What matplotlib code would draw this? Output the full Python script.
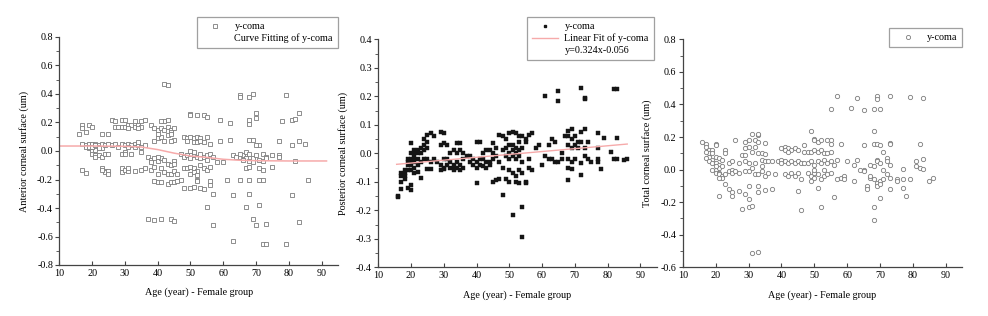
import matplotlib
matplotlib.use("Agg")
import matplotlib.pyplot as plt
from matplotlib.lines import Line2D
from matplotlib.ticker import MultipleLocator

plt.rcParams['font.family'] = ['Liberation Serif', 'DejaVu Serif']
FS = 7.3

# ---------------- data (age, y-coma) ----------------
ant_points = [
    (16,0.12),(17,0.18),(17,0.16),(18,0.13),(19,0.18),(20,0.17),
    (17,0.05),(18,0.04),(18,0.03),(19,0.05),(19,0.02),(20,0.04),(20,0.02),(20,0.00),(20,0.05),(21,0.03),
    (21,0.05),(21,0.01),(22,0.04),(22,0.03),(23,0.05),(23,0.02),(24,0.04),(25,0.05),(19,0.03),(20,0.03),
    (21,0.04),(22,0.02),(20,-0.02),(21,-0.03),(22,-0.03),(23,-0.04),(24,-0.02),(25,-0.02),(21,-0.04),
    (17,-0.13),(18,-0.155),(23,-0.12),(24,-0.14),(24,-0.15),(25,-0.14),(25,-0.16),(23,-0.13),(23,0.12),(25,0.12),
    (26,0.22),(27,0.21),(27,0.17),(28,0.17),(29,0.22),(30,0.22),(29,0.17),(30,0.17),(31,0.18),(32,0.18),
    (33,0.17),(33,0.21),(34,0.18),(35,0.17),(36,0.22),(35,0.21),(31,0.16),(34,0.16),
    (26,0.04),(27,0.05),(28,0.03),(29,0.05),(30,0.04),(31,0.05),(32,0.04),(33,0.05),(33,0.03),(34,0.04),
    (35,0.03),(36,0.04),(34,0.06),(31,0.03),(29,-0.02),(30,-0.01),(30,-0.02),(32,-0.02),(35,-0.01),
    (29,-0.12),(29,-0.15),(30,-0.13),(31,-0.14),(33,-0.14),(35,-0.13),(36,-0.12),(31,-0.12),
    (38,0.18),(39,0.16),(40,0.15),(41,0.16),(42,0.15),(43,0.17),(44,0.15),(45,0.16),(44,0.13),(42,0.21),
    (43,0.22),(41,0.21),(39,0.07),(40,0.09),(41,0.10),(42,0.07),(43,0.11),(44,0.12),(45,0.08),(40,0.12),(44,0.07),
    (37,-0.04),(38,-0.06),(39,-0.05),(40,-0.07),(41,-0.05),(42,-0.06),(38,-0.08),(40,-0.04),(43,-0.09),(45,-0.07),
    (38,-0.13),(39,-0.11),(40,-0.16),(41,-0.12),(42,-0.15),(43,-0.16),(44,-0.16),(45,-0.14),(46,-0.16),(44,-0.10),(45,-0.09),
    (39,-0.21),(40,-0.22),(41,-0.22),(43,-0.23),(44,-0.22),(45,-0.22),(46,-0.21),(47,-0.20),
    (37,-0.48),(39,-0.485),(41,-0.48),(44,-0.48),(45,-0.49),(42,0.47),(43,0.465),
    (50,0.26),(52,0.25),(54,0.25),(55,0.24),(50,0.25),
    (48,0.10),(49,0.09),(50,0.10),(51,0.09),(52,0.10),(53,0.09),(55,0.10),(51,0.06),(52,0.06),(53,0.07),
    (54,0.06),(56,0.05),(49,0.07),
    (47,-0.02),(48,-0.04),(49,-0.03),(50,-0.05),(51,-0.03),(52,-0.04),(53,-0.02),(54,-0.04),(55,-0.03),
    (56,-0.02),(50,0.00),(51,-0.01),(53,-0.05),(55,-0.06),(57,-0.04),
    (48,-0.12),(49,-0.12),(50,-0.11),(51,-0.12),(52,-0.14),(53,-0.10),(54,-0.12),(55,-0.13),(56,-0.11),
    (50,-0.16),(51,-0.15),(52,-0.17),
    (48,-0.26),(50,-0.26),(51,-0.25),(52,-0.20),(53,-0.26),(54,-0.27),(56,-0.21),(56,-0.24),(52,-0.21),
    (55,-0.39),(57,-0.30),(57,-0.52),
    (59,0.22),(62,0.20),(59,0.07),(62,0.08),(58,-0.08),(60,-0.08),(61,-0.20),(63,-0.31),(63,-0.63),
    (65,0.39),(65,0.38),(68,0.38),(69,0.40),(70,0.27),(68,0.22),(70,0.23),(68,0.19),(68,0.08),(69,0.08),
    (71,0.04),(70,0.04),
    (63,-0.03),(64,-0.04),(65,-0.04),(66,-0.03),(67,-0.01),(68,-0.02),(69,-0.05),(70,-0.03),(71,-0.06),
    (72,-0.02),(73,-0.04),(65,-0.02),(67,-0.05),(68,-0.07),(69,-0.08),(66,-0.06),(72,-0.07),(73,-0.05),
    (65,-0.20),(67,-0.12),(68,-0.11),(68,-0.20),(71,-0.12),(71,-0.20),(72,-0.20),(72,-0.13),
    (68,-0.30),(67,-0.39),(71,-0.38),(69,-0.48),(70,-0.52),(73,-0.51),(72,-0.655),(73,-0.65),
    (79,0.39),(83,0.27),(78,0.21),(81,0.22),(82,0.225),(77,0.07),(83,0.07),(85,0.05),(81,0.04),(75,-0.03),
    (77,-0.03),(77,-0.04),(82,-0.07),(75,-0.11),(86,-0.20),(81,-0.31),(83,-0.50),(79,-0.65),
]

# smoothing curve of panel 1 (knots)
curve_age = [10, 20, 30, 35, 40, 45, 50, 55, 60, 65, 70, 80, 91.5]
curve_val = [0.035, 0.035, 0.033, 0.028, 0.010, -0.015, -0.035, -0.045, -0.058, -0.065, -0.068, -0.070, -0.070]

post_points = [
    (16,-0.15),(16,-0.155),(17,-0.125),(17,-0.10),(17,-0.08),(18,-0.07),(18,-0.09),(17,-0.07),(18,-0.06),
    (19,-0.12),(20,-0.13),(20,-0.11),(19,-0.06),(19,-0.04),(20,-0.06),(20,-0.03),(19,-0.02),(20,-0.02),
    (21,-0.03),(21,-0.05),(20,0.035),(20,0.00),(21,0.00),(21,-0.01),(22,0.01),(22,0.00),(21,0.01),(22,-0.02),
    (20,-0.04),(21,-0.02),(22,-0.04),(19,-0.03),(18,-0.08),
    (23,0.00),(23,0.02),(24,0.01),(24,0.03),(25,0.02),(25,0.04),(24,0.05),(25,0.065),(26,0.07),(23,-0.03),
    (24,-0.02),(25,-0.02),(26,-0.03),(22,-0.065),(23,-0.085),(25,-0.055),(26,-0.055),(21,-0.07),
    (27,0.06),(29,0.075),(30,0.07),(29,0.03),(30,0.035),(31,0.03),(27,-0.02),(28,-0.03),(29,-0.04),(30,-0.05),
    (31,-0.04),(32,-0.05),(33,-0.04),(34,-0.05),(35,-0.04),(36,-0.05),(29,-0.06),(30,-0.055),(31,-0.02),
    (32,-0.03),(33,-0.05),(35,-0.06),(34,-0.03),(30,-0.02),(32,0.00),(33,0.01),(34,0.00),(35,0.01),(36,0.00),
    (37,-0.01),(34,0.035),(35,0.035),(36,-0.02),(33,-0.06),
    (38,-0.03),(39,-0.04),(40,-0.05),(40,-0.03),(41,-0.04),(42,-0.02),(43,-0.03),(44,-0.04),(45,-0.02),
    (41,-0.02),(42,-0.045),(43,-0.05),(44,-0.03),(39,-0.02),(40,0.04),(41,0.04),(40,-0.105),(42,0.00),
    (43,0.01),(44,0.01),(45,0.00),(46,-0.01),(45,0.035),(46,0.02),(45,-0.10),(46,-0.095),(38,-0.01),
    (47,0.065),(48,0.06),(50,0.07),(51,0.075),(52,0.07),(53,0.06),(49,0.05),(48,0.01),(49,0.02),(50,0.03),
    (51,0.01),(52,0.00),(53,-0.01),(54,0.02),(55,0.04),(50,0.00),(51,0.03),(52,0.02),(53,0.04),(54,0.06),
    (49,-0.01),(50,-0.02),(51,-0.01),(52,-0.02),(53,0.01),(54,-0.03),(56,-0.02),(55,0.05),(47,-0.03),
    (48,-0.05),(50,-0.06),(51,-0.07),(52,-0.08),(53,-0.06),(54,-0.07),(55,-0.10),(56,-0.05),(49,-0.09),
    (50,-0.10),(52,-0.10),(53,-0.105),(55,-0.105),(47,-0.09),(48,-0.145),(51,-0.215),(54,-0.19),(54,-0.295),
    (57,0.07),(56,0.065),(57,-0.06),
    (58,0.02),(59,0.03),(60,-0.04),(61,0.20),(62,0.03),(63,0.05),(64,0.04),(65,0.22),(65,0.185),(62,-0.02),
    (63,-0.02),(65,-0.03),(66,-0.02),(67,0.06),(68,0.08),(69,0.085),(68,0.06),(69,0.05),(70,0.06),(68,0.03),
    (69,0.02),(70,0.03),(71,0.04),(68,-0.02),(69,-0.03),(70,-0.02),(68,-0.05),(69,-0.055),(68,-0.095),
    (66,0.00),(61,-0.01),(64,-0.03),
    (72,0.23),(73,0.195),(73,0.19),(82,0.225),(83,0.225),(73,0.085),(72,0.075),(77,0.07),(79,0.055),
    (83,0.055),(71,0.02),(72,0.04),(74,0.04),(77,0.02),(81,0.005),(72,-0.035),(74,-0.02),(75,-0.03),
    (77,-0.02),(77,-0.03),(78,-0.055),(72,-0.075),(82,-0.02),(83,-0.02),(85,-0.025),(86,-0.02),(73,0.02),(73,-0.01),
]

# linear fit of panel 2, drawn between the first and last ages
fit_age_range = [15.6, 86]
fit_slope = 0.00101
fit_intercept = -0.0544

total_points = [
    (16,0.17),(17,0.16),(17,0.14),(18,0.12),(18,0.10),(19,0.12),(17,0.11),(18,0.08),(19,0.06),(17,0.07),
    (20,0.16),(20,0.15),(19,0.10),(20,0.08),(21,0.07),(22,0.06),(18,0.05),(19,0.04),(20,0.04),(21,0.03),
    (20,0.00),(21,0.01),(19,0.00),(22,0.02),(20,-0.02),(21,-0.02),(21,-0.03),(22,-0.04),(22,-0.05),(23,-0.03),
    (21,-0.05),(20,0.02),(21,-0.165),(23,0.12),(23,0.10),(23,-0.09),(24,-0.12),(25,-0.14),(25,-0.16),
    (24,-0.01),(25,0.00),(25,-0.02),(26,-0.01),(24,0.04),(25,0.05),(26,0.18),(27,0.04),(27,-0.13),(27,-0.02),
    (28,-0.24),(28,0.09),(29,0.09),(29,0.13),(29,0.17),(30,0.18),(30,0.14),(29,-0.01),(30,-0.01),(29,-0.15),
    (30,-0.10),(30,-0.18),(30,-0.23),(31,-0.225),(29,0.05),(30,0.04),
    (31,0.22),(33,0.21),(33,0.22),(32,0.18),(33,0.17),(32,0.14),(33,0.10),(34,0.10),(35,0.095),(34,0.06),
    (35,0.05),(36,0.05),(31,0.01),(32,-0.03),(33,-0.03),(34,-0.01),(35,-0.04),(36,-0.02),(34,0.02),(33,-0.10),
    (33,-0.14),(35,-0.125),(31,-0.51),(33,-0.505),(35,0.165),(37,-0.12),(31,0.11),(32,0.04),(38,-0.03),(37,0.05),
    (40,0.13),(41,0.14),(42,0.13),(43,0.12),(44,0.13),(45,0.12),(41,0.12),(42,0.11),(39,0.05),(40,0.06),
    (41,0.05),(42,0.04),(43,0.05),(44,0.04),(45,0.05),(46,0.04),(47,0.04),(40,0.04),(41,-0.03),(42,-0.04),
    (43,-0.02),(44,-0.04),(45,-0.02),(46,-0.06),(45,-0.13),(46,-0.25),(47,0.15),(47,0.11),(48,0.11),
    (49,0.24),(50,0.19),(50,0.18),(51,0.17),(52,0.18),(54,0.18),(55,0.18),(49,0.11),(50,0.12),(51,0.11),
    (52,0.12),(53,0.10),(54,0.10),(55,0.11),(48,0.04),(49,0.05),(50,0.03),(51,0.05),(52,0.04),(53,0.06),
    (54,0.04),(55,0.05),(56,0.03),(48,-0.02),(49,-0.04),(50,-0.05),(51,-0.03),(52,-0.06),(53,-0.04),
    (54,-0.03),(55,-0.02),(49,-0.07),(50,-0.02),(51,-0.115),(52,-0.23),(56,-0.17),(55,0.37),(57,0.45),
    (55,0.16),(58,0.16),(57,0.06),(57,-0.06),(58,-0.05),(59,-0.04),(59,-0.06),(50,0.00),(53,0.00),
    (60,0.05),(61,0.38),(62,0.03),(62,-0.07),(63,0.44),(63,0.06),(64,0.00),(65,0.365),(65,0.15),(65,0.00),
    (65,-0.01),(66,-0.10),(66,-0.12),(67,0.03),(67,-0.05),(68,0.37),(68,0.24),(68,0.16),(68,0.02),(68,-0.06),
    (68,-0.23),(68,-0.31),(69,0.45),(69,0.435),(69,0.155),(69,0.06),(69,0.05),(69,-0.08),(69,-0.10),
    (70,0.375),(70,0.15),(70,0.04),(70,-0.07),(70,-0.09),(70,-0.175),(71,0.11),(71,-0.06),(72,0.07),
    (72,0.05),(72,-0.03),(73,0.165),(73,0.16),(73,0.03),(73,-0.05),(73,-0.12),(67,-0.04),(71,0.00),
    (73,0.45),(77,0.005),(77,-0.06),(77,-0.11),(75,-0.06),(75,-0.07),(78,-0.165),(79,0.445),(79,-0.06),
    (81,0.055),(81,0.02),(82,0.155),(82,0.01),(83,0.44),(83,0.065),(83,0.005),(85,-0.07),(86,-0.05),
]

x_label = "Age (year) - Female group"
y_labels = ["Anterior corneal surface (um)", "Posterior corneal surface (um)", "Total corneal surface (um)"]
x_ticks = [10, 20, 30, 40, 50, 60, 70, 80, 90]

# ---------------- figure ----------------
W, H = 988, 316
fig = plt.figure(figsize=(W / 100, H / 100), dpi=100)

def px_axes(x0, y_top, x1, y_bot):
    return fig.add_axes([x0 / W, 1 - y_bot / H, (x1 - x0) / W, (y_bot - y_top) / H])

ax1 = px_axes(59.3, 37, 338.0, 265)
ax2 = px_axes(378.3, 39.3, 656.7, 267.3)
ax3 = px_axes(682.7, 39.3, 962.4, 267.3)

def style(ax, ylim, ymajor, yminor, ylabel):
    ax.set_xlim(10, 95)
    ax.set_ylim(*ylim)
    ax.set_xticks(x_ticks)
    ax.yaxis.set_major_locator(MultipleLocator(ymajor))
    ax.yaxis.set_minor_locator(MultipleLocator(yminor))
    ax.yaxis.set_major_formatter(matplotlib.ticker.FuncFormatter(lambda v, p: f"{v:.1f}"))
    for s in ('top', 'right'):
        ax.spines[s].set_visible(False)
    for s in ('left', 'bottom'):
        ax.spines[s].set_color('#444444')
        ax.spines[s].set_linewidth(0.9)
    ax.tick_params(axis='y', which='major', direction='out', length=3, width=0.8,
                   color='#444444', labelsize=FS, pad=1.5)
    ax.tick_params(axis='y', which='minor', direction='out', length=2, width=0.6, color='#444444')
    ax.tick_params(axis='x', which='major', direction='in', length=3, width=0.8,
                   color='#444444', labelsize=FS, pad=3)
    ax.set_xlabel(x_label, fontsize=FS, labelpad=7)
    ax.set_ylabel(ylabel, fontsize=FS, labelpad=6)

def leg(ax, handles, labels, anchor):
    lg = ax.legend(handles, labels, loc='upper right', bbox_to_anchor=anchor, borderaxespad=0,
                   fontsize=FS, frameon=True, fancybox=False, handlelength=2.6, handletextpad=0.6,
                   borderpad=0.5, labelspacing=0.25)
    lg.get_frame().set_edgecolor('#888888')
    lg.get_frame().set_linewidth(0.9)
    lg.set_clip_on(False)
    return lg

RED = '#f6aaaa'
GREY_EDGE = '#7c7c7c'

# Panel 1
a_x = [p[0] for p in ant_points]
a_y = [p[1] for p in ant_points]
ax1.plot(a_x, a_y, linestyle='none', marker='s', markersize=2.6, markerfacecolor='white',
         markeredgecolor=GREY_EDGE, markeredgewidth=0.6)
ax1.plot(curve_age, curve_val, color=RED, lw=1.1)
style(ax1, (-0.8, 0.8), 0.2, 0.1, y_labels[0])
h1 = [Line2D([], [], linestyle='none', marker='s', markersize=2.6, markerfacecolor='white',
             markeredgecolor=GREY_EDGE, markeredgewidth=0.6),
      Line2D([], [], color='none')]
leg(ax1, h1, ["y-coma", "Curve Fitting of y-coma"], (1.0, 1.088))

# Panel 2
p_x = [p[0] for p in post_points]
p_y = [p[1] for p in post_points]
ax2.plot(p_x, p_y, linestyle='none', marker='s', markersize=2.2, markerfacecolor='#151515',
         markeredgecolor='#151515', markeredgewidth=0.3)
ax2.plot(fit_age_range, [fit_slope * a + fit_intercept for a in fit_age_range], color=RED, lw=1.0)
style(ax2, (-0.4, 0.4), 0.1, 0.05, y_labels[1])
h2 = [Line2D([], [], linestyle='none', marker='s', markersize=1.8, markerfacecolor='#151515',
             markeredgecolor='#151515'),
      Line2D([], [], color=RED, lw=1.0),
      Line2D([], [], color='none')]
leg(ax2, h2, ["y-coma", "Linear Fit of y-coma", "y=0.324x-0.056"], (0.99, 1.098))

# Panel 3
t_x = [p[0] for p in total_points]
t_y = [p[1] for p in total_points]
ax3.plot(t_x, t_y, linestyle='none', marker='o', markersize=3.1, markerfacecolor='white',
         markeredgecolor=GREY_EDGE, markeredgewidth=0.6)
style(ax3, (-0.6, 0.8), 0.2, 0.1, y_labels[2])
h3 = [Line2D([], [], linestyle='none', marker='o', markersize=3.0, markerfacecolor='white',
             markeredgecolor=GREY_EDGE, markeredgewidth=0.6)]
leg(ax3, h3, ["y-coma"], (1.0, 1.05))

fig.savefig("out.png", dpi=100)
